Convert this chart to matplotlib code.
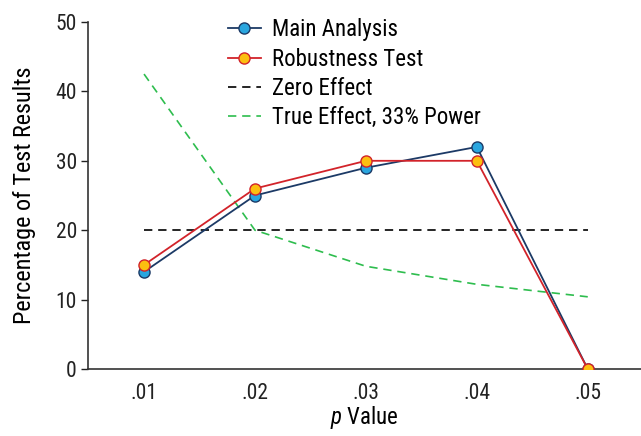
import matplotlib
matplotlib.use("Agg")
import matplotlib.pyplot as plt
from matplotlib import font_manager

p_values = [0.01, 0.02, 0.03, 0.04, 0.05]
tick_labels = [".01", ".02", ".03", ".04", ".05"]
main_analysis = [14, 25, 29, 32, 0]
robustness_test = [15, 26, 30, 30, 0]
zero_effect = [20, 20, 20, 20, 20]
true_effect_33 = [42.5, 20, 14.8, 12.2, 10.4]

names = {f.name for f in font_manager.fontManager.ttflist}
fam = "Liberation Sans"
for cand in ["Roboto Condensed", "Pragati Narrow", "PT Sans Narrow", "Archivo Narrow",
             "Liberation Sans Narrow", "Asap Condensed", "Barlow Semi Condensed"]:
    if cand in names:
        fam = cand
        break
plt.rcParams["font.family"] = [fam, "DejaVu Sans"]
plt.rcParams["mathtext.fontset"] = "custom"
plt.rcParams["mathtext.it"] = f"{fam}:italic"
plt.rcParams["mathtext.rm"] = fam

fig = plt.figure(figsize=(6.41, 4.36), dpi=100)
ax = fig.add_axes([0.1373, 0.1537, 0.8627, 0.7958])

ax.plot(p_values, zero_effect, color="black", lw=1.2, ls=(0, (5, 3.5)), label="Zero Effect", zorder=2)
ax.plot(p_values, true_effect_33, color="#2ebd4e", lw=1.2, ls=(0, (5, 3.5)), label="True Effect, 33% Power", zorder=2)
l1, = ax.plot(p_values, main_analysis, color="#1c3a66", lw=1.3, marker="o", ms=8,
              mfc="#2aa6df", mec="#1c3a66", mew=1.0, label="Main Analysis", zorder=3)
l2, = ax.plot(p_values, robustness_test, color="#d2232a", lw=1.3, marker="o", ms=8,
              mfc="#fcbf10", mec="#d2232a", mew=1.0, label="Robustness Test", zorder=4)

ax.set_xlim(0.00495, 0.0548)
ax.set_ylim(0, 50)
ax.set_xticks(p_values)
ax.set_xticklabels(tick_labels)
ax.set_yticks([0, 10, 20, 30, 40, 50])
ax.tick_params(axis="y", labelsize=15.5, length=5, width=1, direction="out", colors="#222222", pad=3)
ax.tick_params(axis="x", labelsize=15.5, length=0, colors="#222222", pad=10)
for s in ["top", "right"]:
    ax.spines[s].set_visible(False)
for s in ["left", "bottom"]:
    ax.spines[s].set_linewidth(1.2)
    ax.spines[s].set_color("#333333")

ax.set_xlabel(r"$\mathit{p}$ Value", fontsize=16.5, labelpad=0)
ax.set_ylabel("Percentage of Test Results", fontsize=17.5, labelpad=14)

handles = [l1, l2] + ax.get_lines()[:2]
leg = ax.legend(handles, [h.get_label() for h in handles], loc="upper left",
                bbox_to_anchor=(0.215, 1.07), frameon=False, fontsize=16.5,
                handlelength=1.45, handletextpad=0.5, labelspacing=0.27)

fig.savefig("out.png", dpi=100)
